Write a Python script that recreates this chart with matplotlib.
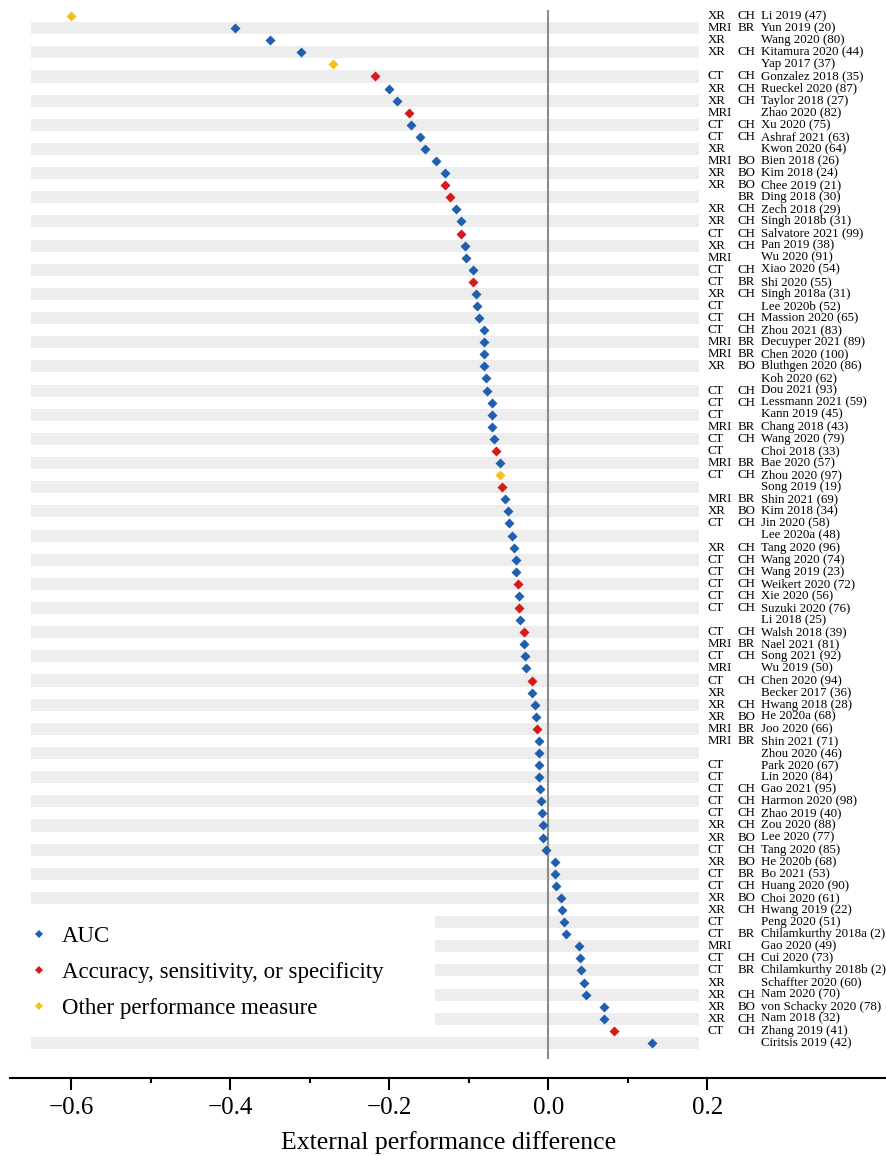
import matplotlib
matplotlib.use('Agg')
import matplotlib.pyplot as plt
import numpy as np
from matplotlib.lines import Line2D
from matplotlib.patches import Rectangle
from matplotlib.ticker import FixedLocator

plt.rcParams['font.family'] = ['Liberation Serif', 'DejaVu Serif']

# study rows, top to bottom
modality = ['XR', 'MRI', 'XR', 'XR', '', 'CT', 'XR', 'XR', 'MRI', 'CT',
            'CT', 'XR', 'MRI', 'XR', 'XR', '', 'XR', 'XR', 'CT', 'XR',
            'MRI', 'CT', 'CT', 'XR', 'CT', 'CT', 'CT', 'MRI', 'MRI', 'XR',
            '', 'CT', 'CT', 'CT', 'MRI', 'CT', 'CT', 'MRI', 'CT', '',
            'MRI', 'XR', 'CT', '', 'XR', 'CT', 'CT', 'CT', 'CT', 'CT',
            '', 'CT', 'MRI', 'CT', 'MRI', 'CT', 'XR', 'XR', 'XR', 'MRI',
            'MRI', '', 'CT', 'CT', 'CT', 'CT', 'CT', 'XR', 'XR', 'CT',
            'XR', 'CT', 'CT', 'XR', 'XR', 'CT', 'CT', 'MRI', 'CT', 'CT',
            'XR', 'XR', 'XR', 'XR', 'CT', '']
region = ['CH', 'BR', '', 'CH', '', 'CH', 'CH', 'CH', '', 'CH',
          'CH', '', 'BO', 'BO', 'BO', 'BR', 'CH', 'CH', 'CH', 'CH',
          '', 'CH', 'BR', 'CH', '', 'CH', 'CH', 'BR', 'BR', 'BO',
          '', 'CH', 'CH', '', 'BR', 'CH', '', 'BR', 'CH', '',
          'BR', 'BO', 'CH', '', 'CH', 'CH', 'CH', 'CH', 'CH', 'CH',
          '', 'CH', 'BR', 'CH', '', 'CH', '', 'CH', 'BO', 'BR',
          'BR', '', '', '', 'CH', 'CH', 'CH', 'CH', 'BO', 'CH',
          'BO', 'BR', 'CH', 'BO', 'CH', '', 'BR', '', 'CH', 'BR',
          '', 'CH', 'BO', 'CH', 'CH', '']
study = ['Li 2019 (47)', 'Yun 2019 (20)', 'Wang 2020 (80)', 'Kitamura 2020 (44)',
         'Yap 2017 (37)', 'Gonzalez 2018 (35)', 'Rueckel 2020 (87)', 'Taylor 2018 (27)',
         'Zhao 2020 (82)', 'Xu 2020 (75)', 'Ashraf 2021 (63)', 'Kwon 2020 (64)',
         'Bien 2018 (26)', 'Kim 2018 (24)', 'Chee 2019 (21)', 'Ding 2018 (30)',
         'Zech 2018 (29)', 'Singh 2018b (31)', 'Salvatore 2021 (99)', 'Pan 2019 (38)',
         'Wu 2020 (91)', 'Xiao 2020 (54)', 'Shi 2020 (55)', 'Singh 2018a (31)',
         'Lee 2020b (52)', 'Massion 2020 (65)', 'Zhou 2021 (83)', 'Decuyper 2021 (89)',
         'Chen 2020 (100)', 'Bluthgen 2020 (86)', 'Koh 2020 (62)', 'Dou 2021 (93)',
         'Lessmann 2021 (59)', 'Kann 2019 (45)', 'Chang 2018 (43)', 'Wang 2020 (79)',
         'Choi 2018 (33)', 'Bae 2020 (57)', 'Zhou 2020 (97)', 'Song 2019 (19)',
         'Shin 2021 (69)', 'Kim 2018 (34)', 'Jin 2020 (58)', 'Lee 2020a (48)',
         'Tang 2020 (96)', 'Wang 2020 (74)', 'Wang 2019 (23)', 'Weikert 2020 (72)',
         'Xie 2020 (56)', 'Suzuki 2020 (76)', 'Li 2018 (25)', 'Walsh 2018 (39)',
         'Nael 2021 (81)', 'Song 2021 (92)', 'Wu 2019 (50)', 'Chen 2020 (94)',
         'Becker 2017 (36)', 'Hwang 2018 (28)', 'He 2020a (68)', 'Joo 2020 (66)',
         'Shin 2021 (71)', 'Zhou 2020 (46)', 'Park 2020 (67)', 'Lin 2020 (84)',
         'Gao 2021 (95)', 'Harmon 2020 (98)', 'Zhao 2019 (40)', 'Zou 2020 (88)',
         'Lee 2020 (77)', 'Tang 2020 (85)', 'He 2020b (68)', 'Bo 2021 (53)',
         'Huang 2020 (90)', 'Choi 2020 (61)', 'Hwang 2019 (22)', 'Peng 2020 (51)',
         'Chilamkurthy 2018a (2)', 'Gao 2020 (49)', 'Cui 2020 (73)', 'Chilamkurthy 2018b (2)',
         'Schaffter 2020 (60)', 'Nam 2020 (70)', 'von Schacky 2020 (78)', 'Nam 2018 (32)',
         'Zhang 2019 (41)', 'Ciritsis 2019 (42)']
diff = [-0.600, -0.394, -0.350, -0.311, -0.270, -0.218, -0.200, -0.190, -0.175, -0.172,
        -0.161, -0.155, -0.141, -0.130, -0.130, -0.123, -0.116, -0.110, -0.110, -0.105,
        -0.103, -0.095, -0.095, -0.091, -0.089, -0.087, -0.081, -0.081, -0.081, -0.081,
        -0.078, -0.077, -0.071, -0.071, -0.071, -0.068, -0.065, -0.060, -0.060, -0.058,
        -0.054, -0.051, -0.049, -0.045, -0.043, -0.040, -0.040, -0.038, -0.037, -0.037,
        -0.035, -0.031, -0.030, -0.029, -0.028, -0.020, -0.020, -0.016, -0.015, -0.014,
        -0.012, -0.011, -0.011, -0.011, -0.010, -0.009, -0.008, -0.007, -0.006, -0.003,
        0.008, 0.008, 0.010, 0.0155, 0.017, 0.020, 0.022, 0.039, 0.040, 0.0415,
        0.045, 0.048, 0.070, 0.070, 0.083, 0.130]
# A = AUC, S = accuracy/sensitivity/specificity, O = other measure
measure = list('OAAAOSAASA'
               'AAAASSAASA'
               'AASAAAAAAA'
               'AAAAAASAOS'
               'AAAAAAASAS'
               'ASAAASAAAS'
               'AAAAAAAAAA'
               'AAAAAAAAAA'
               'AAAASA')

colors = {'A': '#1f5fae', 'S': '#d7191c', 'O': '#f5c116'}
legend_labels = {'A': 'AUC', 'S': 'Accuracy, sensitivity, or specificity',
                 'O': 'Other performance measure'}

n = len(study)
rows = np.arange(n)
diff = np.array(diff)
measure = np.array(measure)

fig = plt.figure(figsize=(8.87, 11.56), dpi=100)
ax = fig.add_axes([0.011, 0.0675, 0.989, 0.9255])

# alternating grey bands
ax.barh(rows[1::2], 0.84, left=-0.65, height=1.0, color='#ededed', zorder=0)

# white area behind the legend
ax.add_patch(Rectangle((-0.7, 73.5), 0.558, 11.0, facecolor='white',
                       edgecolor='none', zorder=1))

ax.vlines(0, -0.5, 86.3, color='#8c8c8c', linewidth=1.5, zorder=2)

for key in ['A', 'S', 'O']:
    mask = measure == key
    ax.scatter(diff[mask], rows[mask], marker='D', s=26, color=colors[key],
               linewidths=0, zorder=3)

for i in rows:
    ax.text(0.2, i, modality[i], fontsize=9.3, va='center', ha='left')
    ax.text(0.238, i, region[i], fontsize=9.3, va='center', ha='left')
    ax.text(0.268, i, study[i], fontsize=9.3, va='center', ha='left')

handles = [Line2D([], [], linestyle='none', marker='D', markersize=4.2,
                  markeredgewidth=0, color=colors[k]) for k in ['A', 'S', 'O']]
ax.legend(handles, [legend_labels[k] for k in ['A', 'S', 'O']],
          loc='upper left', bbox_to_anchor=(0.0316, 0.199),
          bbox_transform=fig.transFigure, frameon=False, fontsize=16.5,
          handlelength=0.97, handletextpad=0.52, labelspacing=0.66,
          borderpad=0, borderaxespad=0)

ax.set_xlim(-0.677, 0.426)
ax.set_ylim(87.9, -0.66)
ax.set_xticks([-0.6, -0.4, -0.2, 0.0, 0.2])
ax.xaxis.set_minor_locator(FixedLocator([-0.5, -0.3, -0.1, 0.1]))
ax.tick_params(axis='x', which='major', length=8.6, width=1.5, labelsize=18, pad=5)
ax.tick_params(axis='x', which='minor', length=3.6, width=1.5)
ax.set_yticks([])
for side in ['left', 'right', 'top']:
    ax.spines[side].set_visible(False)
ax.spines['bottom'].set_linewidth(1.5)
ax.set_xlabel('External performance difference', fontsize=18.5, labelpad=9)

fig.savefig('out.png', dpi=100)
